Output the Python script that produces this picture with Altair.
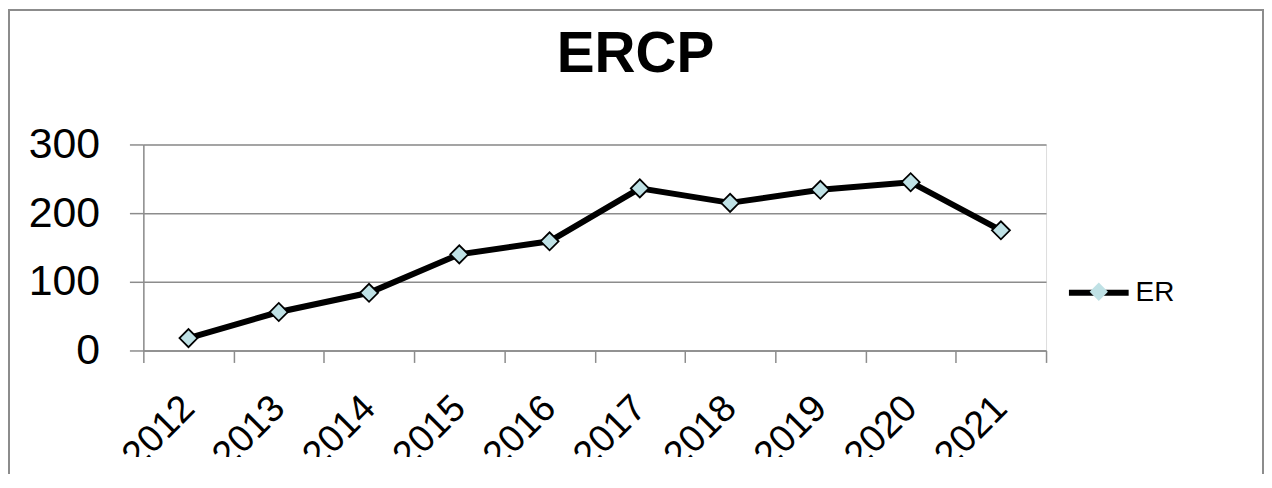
import altair as alt
import pandas as pd

years = ["2012", "2013", "2014", "2015", "2016", "2017", "2018", "2019", "2020", "2021"]
values = [18, 56, 84, 140, 159, 236, 215, 234, 245, 175]
series_name = "ERCP"
y_ticks = [0, 100, 200, 300]

df = pd.DataFrame({
    "year": years,
    "value": values,
    "series": [series_name] * len(years),
    "series_pt": [series_name] * len(years),
})

W, H = 907, 207
GRAY = "#8c8c8c"
FONT = "Liberation Sans"

x_enc = alt.X(
    "year:N", sort=years, title=None, bandPosition=0.5,
    scale=alt.Scale(type="band", paddingInner=0, paddingOuter=0),
    axis=alt.Axis(
        labelAngle=-45, labelAlign="right", labelBaseline="middle",
        labelFontSize=38, labelFont=FONT, labelColor="black",
        labelPadding=40, tickSize=12, tickBand="extent",
        tickColor=GRAY, domainColor=GRAY, tickWidth=1.5, domainWidth=1.5,
        grid=False,
    ),
)
y_enc = alt.Y(
    "value:Q", title=None,
    scale=alt.Scale(domain=[0, 300], nice=False, zero=True),
    axis=alt.Axis(
        values=y_ticks, labelFontSize=43, labelFont=FONT, labelColor="black",
        labelPadding=30, tickSize=14, tickColor=GRAY, domainColor=GRAY,
        tickWidth=1.5, domainWidth=1.5, gridColor=GRAY, gridWidth=1.5,
    ),
)

line = alt.Chart(df).mark_line(strokeWidth=6).encode(
    x=x_enc, y=y_enc,
    color=alt.Color(
        "series:N", scale=alt.Scale(range=["black"]),
        legend=alt.Legend(
            title=None, orient="none", legendX=927, legendY=116,
            symbolType="stroke", symbolStrokeWidth=6, symbolSize=3600,
            labelFontSize=28, labelFont=FONT, labelColor="black",
            labelOffset=4, labelExpr="slice(datum.label, 0, 2)",
        ),
    ),
)

points = alt.Chart(df).mark_point(
    fill="#bfe1e5", stroke="black", strokeWidth=1.8, size=330, opacity=1, filled=False
).encode(
    x=x_enc, y=y_enc,
    shape=alt.Shape(
        "series_pt:N", scale=alt.Scale(range=["diamond"]),
        legend=alt.Legend(
            title=None, orient="none", legendX=947, legendY=135,
            symbolFillColor="#bfe1e5", symbolStrokeColor="black",
            symbolStrokeWidth=1.5, symbolSize=340, symbolOpacity=1,
            labelOpacity=0, labelFontSize=26,
        ),
    ),
)

one = pd.DataFrame({"k": [0]})
cover = alt.Chart(one).mark_rect(fill="white").encode(
    x=alt.value(-134), x2=alt.value(1124), y=alt.value(314), y2=alt.value(340)
)
border = alt.Chart(one).mark_rect(fillOpacity=0, stroke=GRAY, strokeWidth=2).encode(
    x=alt.value(-135), x2=alt.value(1125), y=alt.value(-135), y2=alt.value(345)
)

chart = alt.layer(line, points, cover, border).properties(
    width=W, height=H,
    title=alt.TitleParams(
        "ERCP", fontSize=57, font=FONT, fontWeight="bold", color="black",
        anchor="middle", dx=41, frame="group", baseline="alphabetic",
        offset=0, dy=120,
    ),
    padding={"left": 136, "top": 136, "right": 219, "bottom": 123},
    autosize=alt.AutoSizeParams(type="none"),
).configure_view(stroke=None).configure(background="white")

chart.save("out.html", embed_options={"renderer": "svg", "actions": False})
